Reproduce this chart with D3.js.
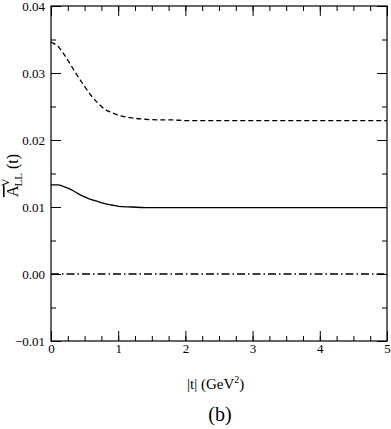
<!DOCTYPE html>
<html>
<head>
  <script src="https://d3js.org/d3.v7.min.js"></script>
  <style>
    body { margin: 0; background: #fff; }
    svg text { font-family: "Liberation Serif", "Times New Roman", Times, serif !important; }
  </style>
</head>
<body>
  <svg id="chart" width="391" height="429"></svg>
  <script>
    // Data
    var tValues = [0, 0.1, 0.2, 0.3, 0.4, 0.5, 0.6, 0.7, 0.8, 0.9, 1.0, 1.2, 1.4, 1.6, 1.8, 2.0, 2.5, 3.0, 3.5, 4.0, 4.5, 5.0];
    var dashedSeries = [0.0346, 0.0340, 0.0327, 0.0311, 0.0295, 0.0280, 0.0266, 0.0255, 0.0246, 0.0241, 0.0237, 0.0233, 0.0231, 0.0230, 0.0230, 0.0229, 0.0229, 0.0229, 0.0229, 0.0229, 0.0229, 0.0229];
    var solidSeries = [0.0133, 0.0133, 0.0130, 0.0126, 0.0120, 0.0115, 0.0111, 0.0108, 0.0105, 0.0103, 0.0101, 0.0100, 0.0099, 0.0099, 0.0099, 0.0099, 0.0099, 0.0099, 0.0099, 0.0099, 0.0099, 0.0099];
    var dashDotSeries = [0, 0, 0, 0, 0, 0, 0, 0, 0, 0, 0, 0, 0, 0, 0, 0, 0, 0, 0, 0, 0, 0];
    var xTicks = [0, 1, 2, 3, 4, 5];
    var yTicks = [-0.01, 0.00, 0.01, 0.02, 0.03, 0.04];

    var margin = { top: 6, right: 4, bottom: 88, left: 51 };
    var width = 391 - margin.left - margin.right;
    var height = 429 - margin.top - margin.bottom;

    var svg = d3.select("#chart")
      .append("g")
      .attr("transform", "translate(" + margin.left + "," + margin.top + ")");

    var xScale = d3.scaleLinear().domain([0, 5]).range([0, width]);
    var yScale = d3.scaleLinear().domain([-0.01, 0.04]).range([height, 0]);

    // minor ticks
    var xMinor = d3.range(0, 5.001, 0.25);
    var yMinor = d3.range(-0.01, 0.0401, 0.005);

    function axisStyle(g) {
      g.attr("font-size", 13);
      g.select(".domain").remove();
      g.selectAll("line").attr("stroke", "#000").attr("stroke-width", 1);
      g.selectAll("text").attr("fill", "#000");
    }

    // bottom and top
    svg.append("g").attr("transform", "translate(0," + height + ")")
      .call(d3.axisBottom(xScale).tickValues(xMinor).tickSize(-5).tickFormat(""))
      .call(axisStyle);
    svg.append("g").attr("transform", "translate(0," + height + ")")
      .call(d3.axisBottom(xScale).tickValues(xTicks).tickSize(-10).tickPadding(3).tickFormat(d3.format("d")))
      .call(axisStyle);
    svg.append("g")
      .call(d3.axisTop(xScale).tickValues(xMinor).tickSize(-5).tickFormat(""))
      .call(axisStyle);
    svg.append("g")
      .call(d3.axisTop(xScale).tickValues(xTicks).tickSize(-10).tickFormat(""))
      .call(axisStyle);

    // left and right
    svg.append("g")
      .call(d3.axisLeft(yScale).tickValues(yMinor).tickSize(-5).tickFormat(""))
      .call(axisStyle);
    svg.append("g")
      .call(d3.axisLeft(yScale).tickValues(yTicks).tickSize(-10).tickPadding(6)
        .tickFormat(function(d) { return d < 0 ? "\u2212" + d3.format(".2f")(-d) : d3.format(".2f")(d); }))
      .call(axisStyle);
    svg.append("g").attr("transform", "translate(" + width + ",0)")
      .call(d3.axisRight(yScale).tickValues(yMinor).tickSize(-5).tickFormat(""))
      .call(axisStyle);
    svg.append("g").attr("transform", "translate(" + width + ",0)")
      .call(d3.axisRight(yScale).tickValues(yTicks).tickSize(-10).tickFormat(""))
      .call(axisStyle);

    // frame
    svg.append("rect")
      .attr("width", width).attr("height", height)
      .attr("fill", "none").attr("stroke", "#000").attr("stroke-width", 1.2);

    var line = d3.line()
      .x(function(d) { return xScale(d[0]); })
      .y(function(d) { return yScale(d[1]); })
      .curve(d3.curveMonotoneX);

    function draw(values, dash) {
      svg.append("path")
        .datum(tValues.map(function(t, i) { return [t, values[i]]; }))
        .attr("d", line)
        .attr("fill", "none")
        .attr("stroke", "#000")
        .attr("stroke-width", 1.3)
        .attr("stroke-dasharray", dash);
    }
    draw(dashedSeries, "5,3");
    draw(solidSeries, null);
    draw(dashDotSeries, "8,3,1.5,3");

    // x label
    var xl = svg.append("text")
      .attr("x", 187 - margin.left).attr("y", 389 - margin.top)
      .attr("font-size", 15);
    xl.append("tspan").text("|t|  (GeV");
    xl.append("tspan").attr("dy", -6).attr("font-size", 10).text("2");
    xl.append("tspan").attr("dy", 6).text(")");

    svg.append("text")
      .attr("x", 220 - margin.left).attr("y", 421 - margin.top)
      .attr("text-anchor", "middle")
      .attr("font-size", 20)
      .text("(b)");

    // y label
    var yl = svg.append("text")
      .attr("transform", "translate(" + (18 - margin.left) + "," + (197 - margin.top) + ") rotate(-90)")
      .attr("font-size", 16);
    yl.append("tspan").attr("text-decoration", "overline").text("A");
    yl.append("tspan").attr("dy", -9).attr("font-size", 11).attr("dx", -1).text("V");
    yl.append("tspan").attr("dy", 13).attr("dx", -8).attr("font-size", 11).text("LL");
    yl.append("tspan").attr("dy", -4).attr("font-size", 16).text(" (t)");
  </script>
</body>
</html>
